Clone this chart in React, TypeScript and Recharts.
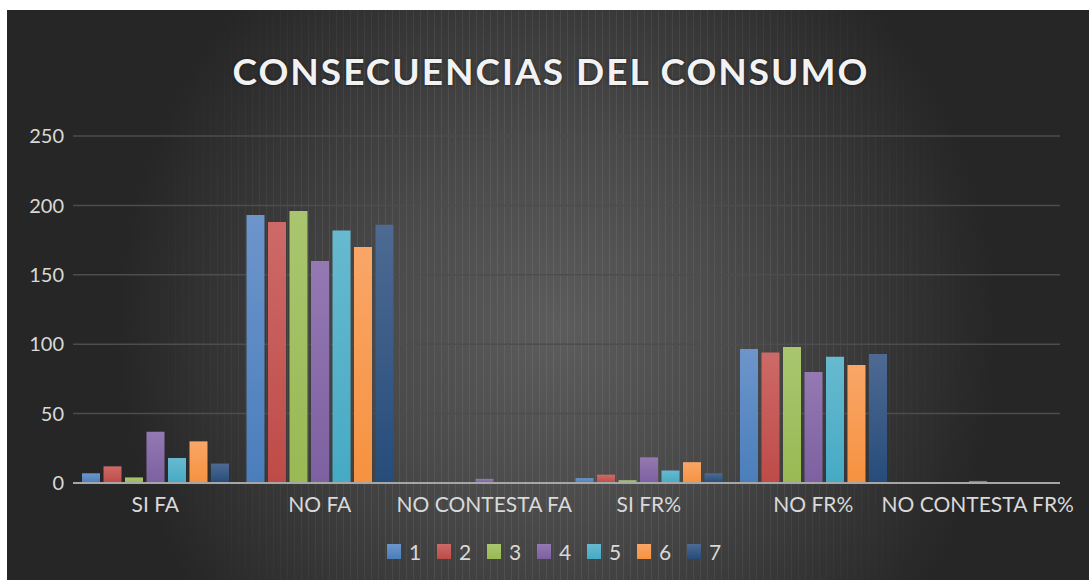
import React from "react";
import { BarChart, Bar, XAxis, YAxis, CartesianGrid, Legend } from "recharts";

// categories and the seven series
const categories = ["SI FA", "NO FA", "NO CONTESTA FA", "SI FR%", "NO FR%", "NO CONTESTA FR%"];
const serie1 = [7, 193, 0, 3.5, 96.5, 0];
const serie2 = [12, 188, 0, 6, 94, 0];
const serie3 = [4, 196, 0, 2, 98, 0];
const serie4 = [37, 160, 3, 18.5, 80, 1.5];
const serie5 = [18, 182, 0, 9, 91, 0];
const serie6 = [30, 170, 0, 15, 85, 0];
const serie7 = [14, 186, 0, 7, 93, 0];
const yTicks = [0, 50, 100, 150, 200, 250];

const seriesNames = ["1", "2", "3", "4", "5", "6", "7"];
const allSeries = [serie1, serie2, serie3, serie4, serie5, serie6, serie7];

// light top / base bottom, office-ish palette
const palette = [
  ["#6d95cb", "#4a7ebb"],
  ["#cd6a67", "#be4b48"],
  ["#a9c66f", "#98b954"],
  ["#9479b2", "#7d60a0"],
  ["#67bacf", "#46aac4"],
  ["#f9a667", "#f69240"],
  ["#4e6a92", "#264c7a"],
];

const data = categories.map((cat, i) => {
  const row: Record<string, string | number> = { cat };
  seriesNames.forEach((s, k) => {
    row["s" + s] = allSeries[k][i];
  });
  return row;
});

const textColor = "#d9d9d9";
const fontFamily = "Lato, 'Open Sans', sans-serif";

function LegendContent() {
  return (
    <div style={{ display: "flex", justifyContent: "center", alignItems: "center", fontFamily, height: 24 }}>
      {seriesNames.map((s, k) => (
        <div key={s} style={{ display: "flex", alignItems: "center", width: 50 }}>
          <span
            style={{
              display: "inline-block",
              width: 14,
              height: 15,
              background: `linear-gradient(${palette[k][0]}, ${palette[k][1]})`,
              marginRight: 8,
            }}
          />
          <span style={{ color: textColor, fontSize: 21 }}>{s}</span>
        </div>
      ))}
    </div>
  );
}

export default function App() {
  return (
    <div
      style={{
        position: "absolute",
        left: 7,
        top: 10,
        width: 1082,
        height: 570,
        overflow: "hidden",
        background:
          "radial-gradient(ellipse 440px 470px at 550px 320px, #5c5c5c 0%, #4a4a4a 40%, #353535 75%, #262626 100%)",
      }}
    >
      {/* faint vertical stripe texture in the middle */}
      <div
        style={{
          position: "absolute",
          inset: 0,
          background:
            "repeating-linear-gradient(90deg, rgba(255,255,255,0.07) 0px, rgba(255,255,255,0.07) 1px, transparent 1px, transparent 7px)",
          WebkitMaskImage: "radial-gradient(ellipse 420px 500px at 550px 300px, #000 60%, transparent 100%)",
          maskImage: "radial-gradient(ellipse 420px 500px at 550px 300px, #000 60%, transparent 100%)",
        }}
      />
      <div
        style={{
          position: "absolute",
          top: 38,
          left: 0,
          width: 1088,
          textAlign: "center",
          color: "#f2f2f2",
          fontFamily,
          fontWeight: 700,
          fontSize: 37,
          letterSpacing: 2,
          textShadow: "0 0 3px rgba(0,0,0,0.6)",
        }}
      >
        CONSECUENCIAS DEL CONSUMO
      </div>
      <BarChart
        width={1082}
        height={570}
        data={data}
        margin={{ top: 126, right: 29, bottom: 0, left: 0 }}
        barGap={3.5}
        style={{ position: "absolute", left: 0, top: 0 }}
      >
        <defs>
          {palette.map((c, k) => (
            <linearGradient key={k} id={`grad${k}`} x1="0" y1="0" x2="0" y2="1">
              <stop offset="0%" stopColor={c[0]} />
              <stop offset="100%" stopColor={c[1]} />
            </linearGradient>
          ))}
        </defs>
        <CartesianGrid vertical={false} stroke="#4d4d4d" strokeWidth={1.5} />
        <XAxis
          dataKey="cat"
          interval={0}
          height={73}
          tickSize={0}
          tickMargin={14}
          axisLine={{ stroke: "#a6a6a6", strokeWidth: 2 }}
          tick={{ fill: textColor, fontSize: 21, fontFamily }}
        />
        <YAxis
          width={66}
          domain={[0, 250]}
          ticks={yTicks}
          axisLine={false}
          tickSize={0}
          tickMargin={9}
          tick={{ fill: textColor, fontSize: 20, fontFamily }}
        />
        <Legend
          verticalAlign="bottom"
          content={<LegendContent />}
          wrapperStyle={{ bottom: 17, left: 0, width: 1110 }}
        />
        {seriesNames.map((s, k) => (
          <Bar
            key={s}
            dataKey={"s" + s}
            name={s}
            fill={`url(#grad${k})`}
            barSize={18}
            isAnimationActive={false}
          />
        ))}
      </BarChart>
    </div>
  );
}
